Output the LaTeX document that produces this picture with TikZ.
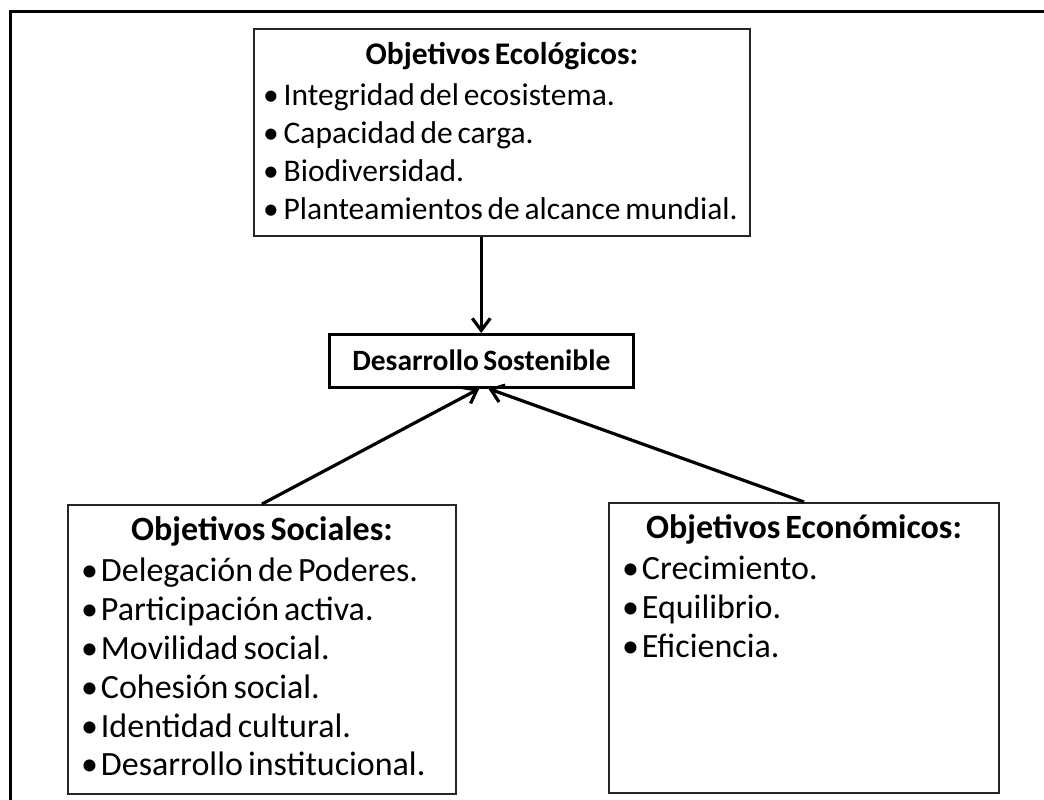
\documentclass[tikz,border=0pt]{standalone}
\usepackage{fontspec}
\setmainfont{Carlito}
\usetikzlibrary{arrows.meta}
\newcommand{\goaltitle}[1]{{\centering\bfseries #1\par}\vspace{3pt}}
\tikzstyle{goal}=[rectangle,draw=black!85,line width=2pt,inner ysep=0pt,
align=left,anchor=north west,font=\fontsize{31.5}{38}\selectfont,
execute at begin node={\spaceskip 0.15em\relax}]
\tikzstyle{target}=[rectangle,draw=black,line width=2.6pt,inner xsep=8pt,inner ysep=0pt,
align=center,anchor=north west,font=\fontsize{29.5}{38}\selectfont\bfseries,
execute at begin node={\spaceskip 0.15em\relax}]
\tikzstyle{arrow}=[line width=3.2pt,-{Straight Barb[length=12pt,width=18pt]}]

\begin{document}
\begin{tikzpicture}[x=1pt,y=-1pt]
        \useasboundingbox (0,0) rectangle (1044,800);
        \draw [line width=3pt] (10.5,800) -- (10.5,12) -- (1044,12);

        \node (eco) [goal,inner xsep=9pt,text width=478pt,text height=36pt,text depth=171pt] at (253,28)
            {\goaltitle{Objetivos Ecológicos:}
             \textbullet\hspace{5pt}Integridad del ecosistema.\\
             \textbullet\hspace{5pt}Capacidad de carga.\\
             \textbullet\hspace{5pt}Biodiversidad.\\
             \textbullet\hspace{5pt}Planteamientos de alcance mundial.};
        \node (ds) [target,text width=288pt,text height=36pt,text depth=17pt] at (328,333) {Desarrollo Sostenible};
        \node (soc) [goal,font=\fontsize{34}{38.8}\selectfont,inner xsep=13pt,text width=362pt,text height=35pt,text depth=254pt] at (67,504)
            {\goaltitle{Objetivos Sociales:}
             \textbullet\hspace{3pt}Delegación de Poderes.\\
             \textbullet\hspace{3pt}Participación activa.\\
             \textbullet\hspace{3pt}Movilidad social.\\
             \textbullet\hspace{3pt}Cohesión social.\\
             \textbullet\hspace{3pt}Identidad cultural.\\
             \textbullet\hspace{3pt}Desarrollo institucional.};
        \node (econ) [goal,font=\fontsize{34}{38.8}\selectfont,inner xsep=13pt,text width=364pt,text height=35pt,text depth=255pt] at (608,502)
            {\goaltitle{Objetivos Económicos:}
             \textbullet\hspace{3pt}Crecimiento.\\
             \textbullet\hspace{3pt}Equilibrio.\\
             \textbullet\hspace{3pt}Eficiencia.};

        \draw [arrow] (ds.north |- eco.south) -- (ds.north);
        \draw [arrow] (soc.north) -- ([xshift=-2pt]ds.south);
        \draw [arrow] (econ.north) -- ([xshift=7pt]ds.south);
\end{tikzpicture}
\end{document}
